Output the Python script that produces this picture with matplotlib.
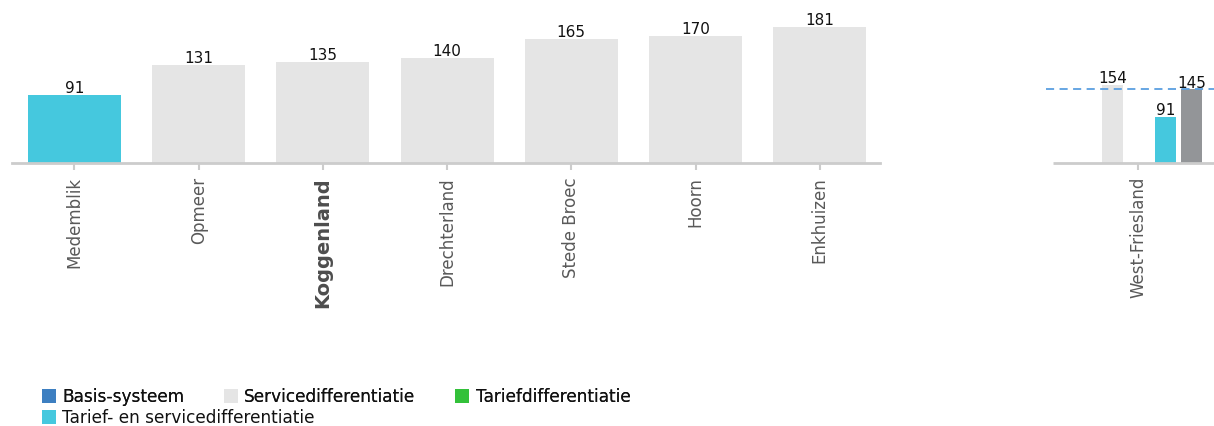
import matplotlib.pyplot as plt
from matplotlib.patches import Patch

# gemeenten (links)
gemeenten = ["Medemblik", "Opmeer", "Koggenland", "Drechterland", "Stede Broec", "Hoorn", "Enkhuizen"]
waarden = [91, 131, 135, 140, 165, 170, 181]
systeem = ["ts", "s", "s", "s", "s", "s", "s"]

# regio (rechts)
regio = "West-Friesland"
regio_service = 154
regio_tarief_service = 91
regio_gemiddeld = 145

legend_labels = ["Basis-systeem", "Servicedifferentiatie", "Tariefdifferentiatie",
                 "Tarief- en servicedifferentiatie"]

C_BASIS = "#3d7fc1"
C_SERVICE = "#e5e5e5"
C_TARIEF = "#33c13a"
C_TS = "#45c8de"
C_GEM = "#939598"
kleur = {"b": C_BASIS, "s": C_SERVICE, "t": C_TARIEF, "ts": C_TS}

W, H = 1214, 426
fig = plt.figure(figsize=(W / 100, H / 100), dpi=100)
plt.rcParams["font.family"] = ["DejaVu Sans"]

base_y = 163  # baseline in pixels from top


def px_axes(x0, x1):
    return fig.add_axes([x0 / W, (H - base_y) / H, (x1 - x0) / W, base_y / H])


def waardelabel(a, x, v):
    a.annotate(str(v), (x, v), xytext=(0, 1.3), textcoords="offset points",
               ha="center", va="baseline", fontsize=11, color="#111111", zorder=5)


# --- linker paneel ---
ax = px_axes(12, 880)
step = 124.2
xs = list(range(len(gemeenten)))
ax.bar(xs, waarden, width=0.75, color=[kleur[s] for s in systeem], zorder=2)
for x, v in zip(xs, waarden):
    waardelabel(ax, x, v)
ax.set_xlim((12 - 74.5) / step, (880 - 74.5) / step)
ax.set_ylim(0, base_y / 0.75)
ax.set_xticks(xs)
ax.set_xticklabels(gemeenten, rotation=90, fontsize=12, color="#595959")
for lbl in ax.get_xticklabels():
    if lbl.get_text() == "Koggenland":
        lbl.set_fontweight("bold")
        lbl.set_fontsize(14)
        lbl.set_color("#4d4d4d")
ax.tick_params(axis="x", length=5, width=1.5, color="#cccccc", pad=5)
ax.set_yticks([])
for s in ["top", "left", "right"]:
    ax.spines[s].set_visible(False)
ax.spines["bottom"].set_color("#cccccc")
ax.spines["bottom"].set_linewidth(2)
ax.patch.set_alpha(0)

# --- rechter paneel ---
slot = 26.5
ax2 = px_axes(1046, 1214)
ax2.set_xlim((1046 - 1138) / slot, (1214 - 1138) / slot)
ax2.set_ylim(0, base_y / 0.508)
ax2.plot([(1053 - 1138) / slot, (1214 - 1138) / slot], [0, 0], color="#cccccc", lw=2,
         zorder=3, clip_on=False, solid_capstyle="butt")
r_pos = [-0.96, 1.04, 2.02]
r_val = [regio_service, regio_tarief_service, regio_gemiddeld]
r_col = [C_SERVICE, C_TS, C_GEM]
ax2.bar(r_pos, r_val, width=0.79, color=r_col, zorder=2)
for x, v in zip(r_pos, r_val):
    waardelabel(ax2, x, v)
ax2.axhline(regio_gemiddeld, color="#5b9fe0", lw=1.3, ls=(0, (4.5, 3)), zorder=4)
ax2.set_xticks([0])
ax2.set_xticklabels([regio], rotation=90, fontsize=12, color="#595959")
ax2.tick_params(axis="x", length=5, width=1.5, color="#cccccc", pad=5)
ax2.set_yticks([])
for s in ax2.spines.values():
    s.set_visible(False)
ax2.patch.set_alpha(0)

# --- legenda ---
cols = [C_BASIS, C_SERVICE, C_TARIEF, C_TS]
handles = [Patch(facecolor=c, edgecolor="none") for c in cols]
leg_kw = dict(frameon=False, fontsize=12.2, handlelength=0.83, handleheight=0.83,
              handletextpad=0.36, borderpad=0, borderaxespad=0, labelcolor="#111111")
leg1 = fig.legend(handles[:3], legend_labels[:3], loc="upper left", ncol=3,
                  bbox_to_anchor=(42 / W, 1 - 388 / H), columnspacing=2.35, **leg_kw)
fig.add_artist(leg1)
fig.legend(handles[3:], legend_labels[3:], loc="upper left",
           bbox_to_anchor=(42 / W, 1 - 409 / H), **leg_kw)

fig.savefig("out.png", dpi=100)
